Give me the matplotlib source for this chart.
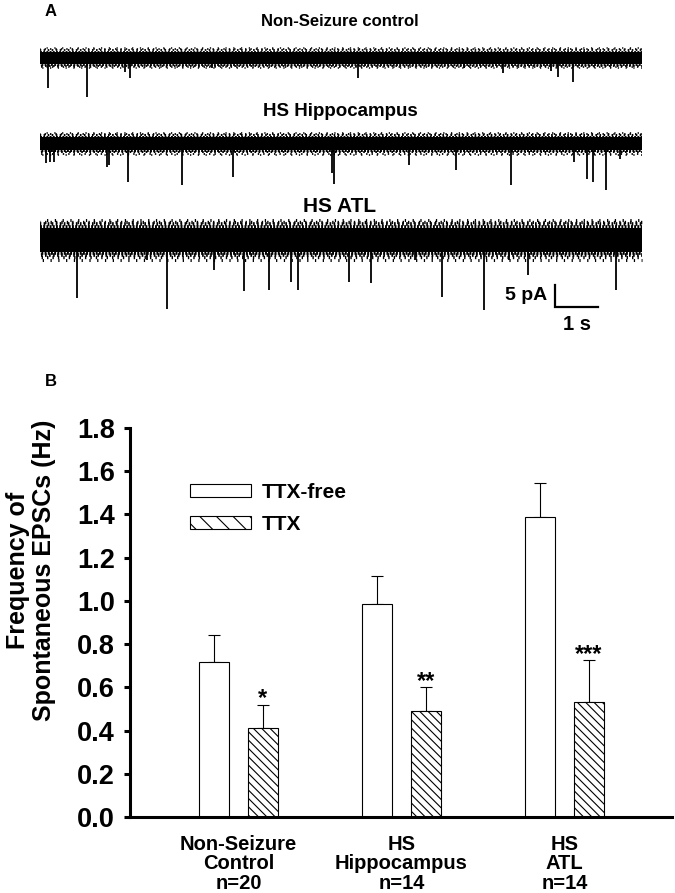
import numpy as np
import matplotlib
matplotlib.use('Agg')
import matplotlib.pyplot as plt
from matplotlib.patches import Patch

plt.rcParams['font.family'] = 'Liberation Sans'
plt.rcParams['font.weight'] = 'bold'
plt.rcParams['hatch.linewidth'] = 0.8
plt.rcParams['lines.scale_dashes'] = False

# --------------------------
# Panel B: bar chart data
# --------------------------
groups = ['Non-Seizure\nControl\nn=20', 'HS\nHippocampus\nn=14', 'HS\nATL\nn=14']
ttx_free = [0.715, 0.985, 1.39]
ttx_free_err = [0.125, 0.13, 0.155]
ttx = [0.41, 0.49, 0.53]
ttx_err = [0.11, 0.11, 0.195]
stars = ['*', '**', '***']

# --------------------------
# Panel A: example traces (event times in s, amplitudes in pA)
# --------------------------
trace_titles = ['Non-Seizure control', 'HS Hippocampus', 'HS ATL']
trace_noise = [1.9, 2.1, 3.8]   # half-width of the baseline noise band, pA
trace_len = 14.0

ctrl_times = [0.18, 1.10, 1.98, 2.09, 4.00, 7.40, 9.86, 10.77, 11.88, 12.05, 12.40]
ctrl_amps = [6.8, 8.9, 3.2, 4.5, 2.3, 4.5, 2.3, 3.4, 3.0, 4.3, 5.5]

hipp_times = [0.14, 0.23, 0.33, 1.56, 1.60, 2.05, 3.30, 4.49, 6.79, 6.84,
              8.58, 9.67, 10.95, 12.42, 12.72, 12.86, 13.16, 13.49]
hipp_amps = [4.3, 4.1, 4.1, 5.2, 4.8, 8.6, 9.3, 7.5, 6.6, 9.1,
             4.8, 5.9, 9.3, 4.1, 8.0, 8.6, 10.5, 3.4]

atl_times = [0.86, 2.49, 2.95, 4.05, 4.74, 5.33, 5.84, 6.00, 7.19, 7.70,
             8.72, 9.35, 10.33, 10.91, 11.35, 13.40]
atl_amps = [13.2, 4.5, 15.7, 6.8, 11.6, 11.4, 9.5, 11.4, 9.5, 9.8,
            4.5, 13.0, 15.9, 4.5, 8.0, 11.4]

trace_events = [(ctrl_times, ctrl_amps), (hipp_times, hipp_amps), (atl_times, atl_amps)]
trace_offsets = [-6.4, -25.9, -47.7]   # vertical placement of each trace, pA

fig = plt.figure(figsize=(6.75, 8.93), dpi=100)

# --------------------------
# A: traces
# --------------------------
axA = fig.add_axes([40 / 675, 1 - 330 / 893, 603 / 675, 300 / 893])
axA.set_xlim(0, 14.02)
axA.set_ylim(-68.2, 0)
pt_per_pA = 300 / 68.2 * 0.72   # axis height in pt / pA range

# ragged edge of the noise band: (position as fraction of band, thickness fraction, dash on, dash off)
hair_layers = [(0.78, 0.22, 1.4, 0.9), (0.92, 0.22, 1.2, 1.7),
               (1.05, 0.2, 1.0, 2.9), (1.18, 0.18, 0.9, 4.7)]

for off, noise, (times, amps) in zip(trace_offsets, trace_noise, trace_events):
    axA.fill_between([0, trace_len], off - 0.7 * noise, off + 0.7 * noise, color='black', lw=0)
    for k, (pos, thick, on, gap) in enumerate(hair_layers):
        lw = thick * noise * pt_per_pA
        for sgn, shift in [(1, 0.3 * k), (-1, 1.3 + 0.9 * k)]:
            axA.plot([0, trace_len], [off + sgn * pos * noise] * 2, color='black', lw=lw,
                     linestyle=(shift, (on, gap)), solid_capstyle='butt')
    axA.vlines(times, [off - a for a in amps], off, color='black', lw=1.3)

# scale bar 5 pA / 1 s
axA.plot([11.98, 11.98, 12.98], [-57.95, -62.95, -62.95], color='black', lw=1.6,
         solid_joinstyle='miter')
axA.text(11.8, -60.3, '5 pA', ha='right', va='center', fontsize=14)
axA.text(12.48, -67.0, '1 s', ha='center', va='center', fontsize=14.5)
axA.axis('off')

fig.text(340 / 675, 1 - 22 / 893, trace_titles[0], ha='center', va='center', fontsize=12)
fig.text(340 / 675, 1 - 111 / 893, trace_titles[1], ha='center', va='center', fontsize=13.5)
fig.text(340 / 675, 1 - 206 / 893, trace_titles[2], ha='center', va='center', fontsize=15)
fig.text(45 / 675, 1 - 11 / 893, 'A', ha='left', va='center', fontsize=12)
fig.text(45 / 675, 1 - 381 / 893, 'B', ha='left', va='center', fontsize=12)

# --------------------------
# B: bar chart
# --------------------------
axB = fig.add_axes([130 / 675, 1 - 817 / 893, 542 / 675, 389 / 893])
x = np.arange(len(groups))
w = 0.184
d = 0.150
axB.bar(x - d, ttx_free, w, color='white', edgecolor='black', lw=0.8, zorder=2)
axB.bar(x + d, ttx, w, color='white', edgecolor='black', lw=0.8, hatch='\\\\\\\\', zorder=2)
axB.errorbar(x - d, ttx_free, yerr=[[0] * 3, ttx_free_err], fmt='none', ecolor='black',
             elinewidth=0.8, capsize=4, capthick=0.8, zorder=1)
axB.errorbar(x + d, ttx, yerr=[[0] * 3, ttx_err], fmt='none', ecolor='black',
             elinewidth=0.8, capsize=4, capthick=0.8, zorder=1)
for xi, v, e, s in zip(x + d, ttx, ttx_err, stars):
    axB.text(xi, v + e - 0.025, s, ha='center', va='bottom', fontsize=17)

axB.set_xlim(-0.666, 2.66)
axB.set_ylim(0, 1.8)
axB.set_yticks(np.arange(0, 1.81, 0.2))
axB.set_yticklabels(['%.1f' % v for v in np.arange(0, 1.81, 0.2)])
axB.set_xticks(x)
axB.set_xticklabels(groups, fontsize=14.5, linespacing=1.02)
axB.tick_params(axis='x', length=0, pad=13)
axB.tick_params(axis='y', labelsize=19.5, width=2.2, length=4, pad=7)
for side in ['top', 'right']:
    axB.spines[side].set_visible(False)
for side in ['left', 'bottom']:
    axB.spines[side].set_linewidth(2.2)

handles = [Patch(facecolor='white', edgecolor='black', lw=0.8, label='TTX-free'),
           Patch(facecolor='white', edgecolor='black', lw=0.8, hatch='\\\\', label='TTX')]
axB.legend(handles=handles, loc='upper left', bbox_to_anchor=(0.111, 0.859), frameon=False,
           fontsize=15, handlelength=2.9, handleheight=0.6, handletextpad=0.55,
           labelspacing=0.62, borderpad=0, borderaxespad=0)

fig.text(31 / 675, 1 - 570 / 893, 'Frequency of\nSpontaneous EPSCs (Hz)', rotation=90,
         ha='center', va='center', fontsize=18, linespacing=1.1)

fig.savefig('out.png', dpi=100)
